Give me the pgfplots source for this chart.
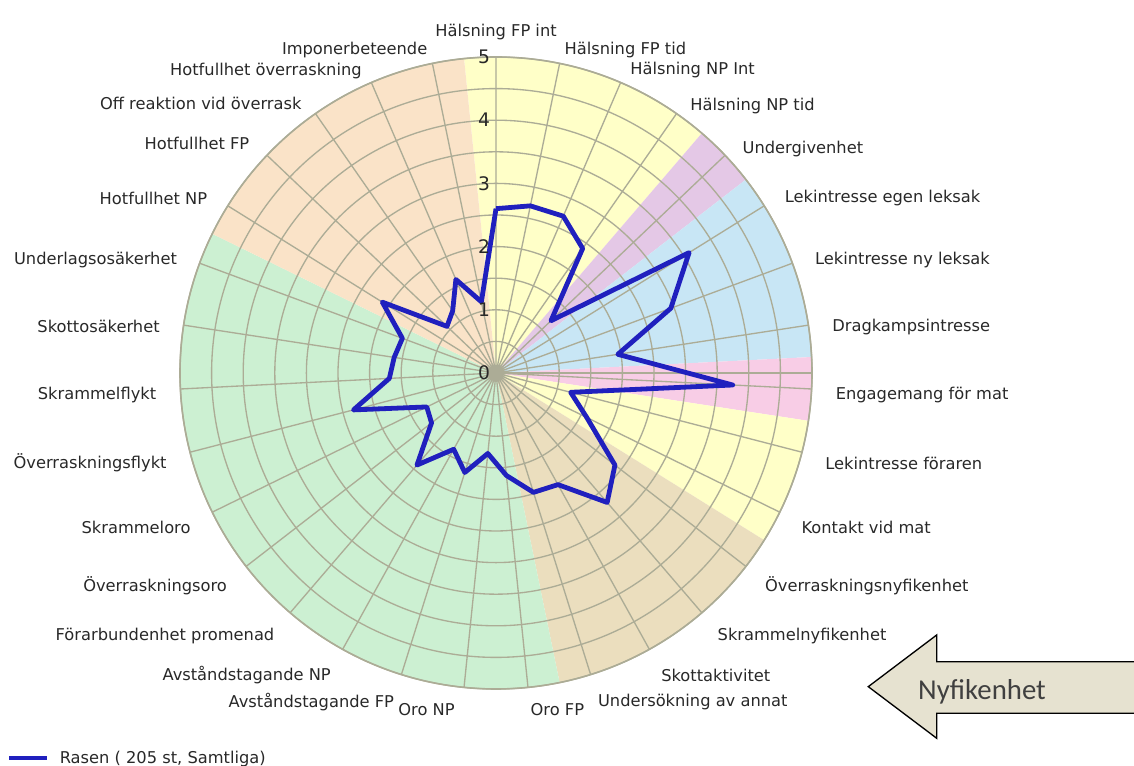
\documentclass[border=0pt]{standalone}
\usepackage{pgfplots}
\pgfplotsset{compat=1.18}
\usepgfplotslibrary{polar}
\usepackage{fontspec}
\setmainfont{DejaVu Sans}
\newfontfamily\arrowfont{Carlito}
\definecolor{gridc}{RGB}{172,172,150}
\definecolor{cyel}{RGB}{255,255,200}
\definecolor{cpur}{RGB}{228,200,230}
\definecolor{cblu}{RGB}{200,230,245}
\definecolor{cpnk}{RGB}{248,205,230}
\definecolor{ctan}{RGB}{235,222,190}
\definecolor{cgrn}{RGB}{204,240,210}
\definecolor{cpch}{RGB}{250,227,200}
\definecolor{cline}{RGB}{32,32,190}
\definecolor{arrowfill}{RGB}{230,226,208}
\definecolor{txt}{RGB}{40,40,40}
\newcommand\sector[3]{\fill[#1] (axis cs:0,0) -- (axis cs:#2,5) arc[start angle=#2, end angle=#3, radius=237pt] -- cycle;}
\newcommand\lblfont{\fontsize{12.2}{14}\selectfont}
\newcommand\mv[2]{\raisebox{#1}[\height][\depth]{#2}}
\begin{document}
\begin{tikzpicture}
\begin{polaraxis}[
  at={(372pt,294.75pt)}, anchor=center,
  width=474pt, height=474pt, scale only axis,
  set layers,
  xmin=0, xmax=360, ymin=0, ymax=5,
  xtick={8.710,20.323,31.935,43.548,55.161,66.774,78.387,90,101.613,113.226,124.839,136.452,148.065,159.677,171.290,182.903,194.516,206.129,217.742,229.355,240.968,252.581,264.194,275.806,287.419,299.032,310.645,322.258,333.871,345.484,357.097},
  xticklabels={,,,,,,,Hälsning FP int,,,,,,,,,,,,,,,,,,,,,,,},
  xticklabel style={anchor=south, inner sep=0pt, yshift=12.5pt, font=\lblfont, text=txt},
  ytick={0.5,1,...,5},
  yticklabels={},
  grid=major,
  major grid style={draw=gridc, line width=1pt},
  axis line style={draw=gridc, line width=1.2pt},
  major tick length=0pt,
  legend style={at={(axis description cs:-0.274,-0.109)}, anchor=west, draw=none, fill=none, inner sep=0pt, font=\lblfont, text=txt, legend cell align=left},
  legend image code/.code={\draw[#1, line width=3pt] (0pt,0pt) -- (28.5pt,0pt);},
]
\begin{pgfonlayer}{axis background}
\sector{cyel}{95.806}{49.355}
\sector{cpur}{49.355}{37.742}
\sector{cblu}{37.742}{2.903}
\sector{cpnk}{2.903}{-8.710}
\sector{cyel}{-8.710}{-31.935}
\sector{ctan}{-31.935}{-78.387}
\sector{cgrn}{-78.387}{-206.129}
\sector{cpch}{153.871}{95.806}
\end{pgfonlayer}
\addplot[cline, line width=3.6pt, line join=round, no markers] coordinates {
(90,2.6) (78.387,2.7) (66.774,2.7) (55.161,2.4) (43.548,1.2) (31.935,3.6)
(20.323,2.95) (8.710,1.95) (357.097,3.75) (345.484,1.22) (333.871,1.6)
(322.258,2.38) (310.645,2.7) (299.032,2.02) (287.419,1.98) (275.806,1.63)
(264.194,1.28) (252.581,1.65) (240.968,1.38) (229.355,1.92) (217.742,1.29)
(206.129,1.22) (194.516,2.33) (182.903,1.69) (171.290,1.63) (159.677,1.58)
(148.065,2.12) (136.452,1.07) (124.839,1.2) (113.226,1.61) (101.613,1.15)
(90,2.6)};
\addlegendentry{\hspace*{6pt}Rasen ( 205 st, Samtliga)}
\begin{pgfonlayer}{axis foreground}
\node[font=\fontsize{14}{14}\selectfont, text=txt, xshift=-9pt] at (axis cs:90,0) {0};
\node[font=\fontsize{14}{14}\selectfont, text=txt, xshift=-9pt] at (axis cs:90,1) {1};
\node[font=\fontsize{14}{14}\selectfont, text=txt, xshift=-9pt] at (axis cs:90,2) {2};
\node[font=\fontsize{14}{14}\selectfont, text=txt, xshift=-9pt] at (axis cs:90,3) {3};
\node[font=\fontsize{14}{14}\selectfont, text=txt, xshift=-9pt] at (axis cs:90,4) {4};
\node[font=\fontsize{14}{14}\selectfont, text=txt, xshift=-9pt] at (axis cs:90,5) {5};
\end{pgfonlayer}
\end{polaraxis}
\begin{polaraxis}[
  at={(372pt,291pt)}, anchor=center,
  width=510pt, height=510pt, scale only axis,
  xmin=0, xmax=360, ymin=0, ymax=5,
  axis line style={draw=none},
  major tick length=0pt,
  ytick=\empty,
  grid=none,
  xtick={8.710,20.323,31.935,43.548,55.161,66.774,78.387,275.806,287.419,299.032,310.645,322.258,333.871,345.484,357.097},
  xticklabels={Dragkampsintresse,Lekintresse ny leksak,Lekintresse egen leksak,\mv{-4pt}{Undergivenhet},\mv{-5pt}{Hälsning NP tid},\mv{-3pt}{Hälsning NP Int},\mv{-4pt}{Hälsning FP tid},\mv{5pt}{Oro FP},Undersökning av annat,Skottaktivitet,Skrammelnyfikenhet,Överraskningsnyfikenhet,Kontakt vid mat,Lekintresse föraren,Engagemang för mat},
  xticklabel style={anchor=west, inner sep=0pt, font=\lblfont, text=txt},
  extra x ticks={101.613,113.226,124.839,136.452,148.065,159.677,171.290,182.903,194.516,206.129,217.742,229.355,240.968,252.581,264.194},
  extra x tick labels={\mv{-4pt}{Imponerbeteende},\mv{-4pt}{Hotfullhet överraskning},\mv{-3pt}{Off reaktion vid överrask},Hotfullhet FP,Hotfullhet NP,Underlagsosäkerhet,Skottosäkerhet,Skrammelflykt,Överraskningsflykt,Skrammeloro,Överraskningsoro,Förarbundenhet promenad,Avståndstagande NP,Avståndstagande FP,\mv{5pt}{Oro NP}\kern5pt},
  extra x tick style={grid=none, xticklabel style={anchor=east}},
]
\addplot[draw=none] coordinates {(0,0)};
\end{polaraxis}
\draw[black, line width=1pt, fill=arrowfill] (651.2pt,59.5pt) -- (702.5pt,98.25pt) -- (702.5pt,78.2pt) -- (858pt,78.2pt) -- (858pt,39.5pt) -- (702.5pt,39.5pt) -- (702.5pt,20.8pt) -- cycle;
\node[font=\arrowfont\fontsize{21.6}{24}\selectfont, text={rgb,255:red,64;green,64;blue,64}] at (736.5pt,55.7pt) {Nyfikenhet};
\pgfresetboundingbox
\useasboundingbox (0,0) rectangle (850.5pt,574.5pt);
\end{tikzpicture}
\end{document}
